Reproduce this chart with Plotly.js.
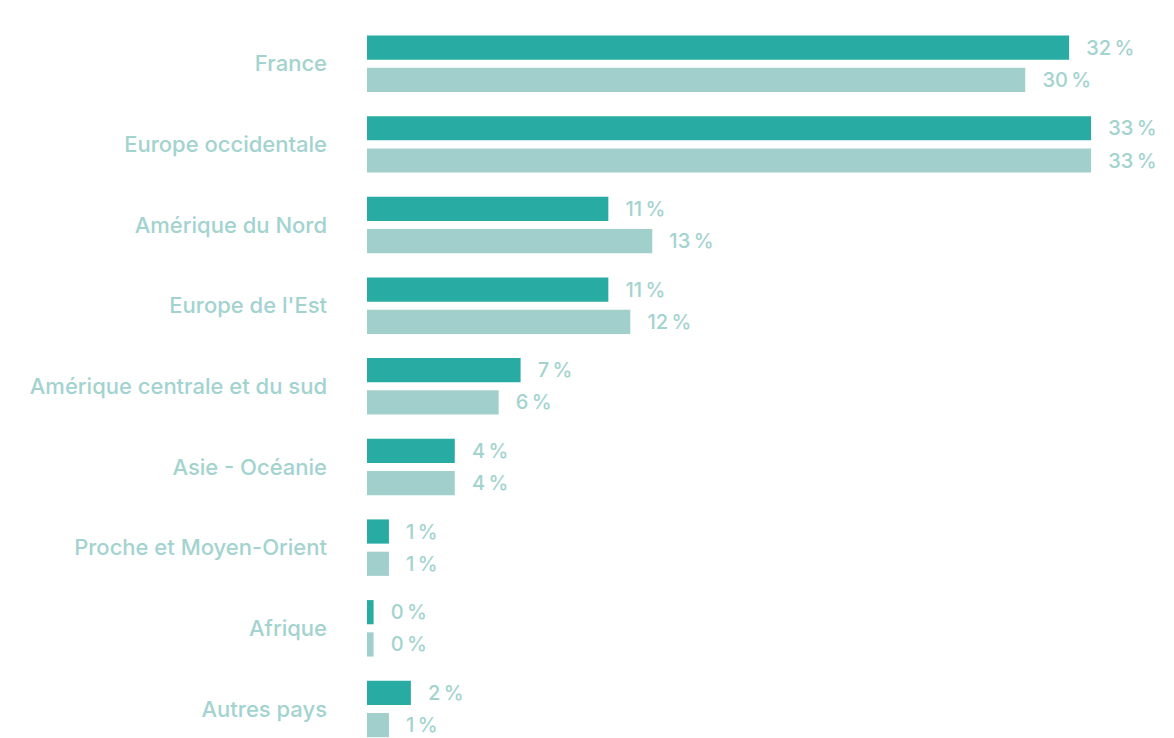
<!DOCTYPE html>
<html>
<head>
<meta charset="utf-8">
<script src="https://cdn.plot.ly/plotly-3.0.1.min.js"></script>
<style>html,body{margin:0;padding:0;background:#fff;}#chart{width:1174px;height:738px;}</style>
</head>
<body>
<div id="chart"></div>
<script>
const categories = ["France","Europe occidentale","Amérique du Nord","Europe de l'Est","Amérique centrale et du sud","Asie - Océanie","Proche et Moyen-Orient","Afrique","Autres pays"];
const seriesA = [32, 33, 11, 11, 7, 4, 1, 0.3, 2];
const seriesB = [30, 33, 13, 12, 6, 4, 1, 0.3, 1];
const labelsA = ["32","33","11","11","7","4","1","0","2"];
const labelsB = ["30","33","13","12","6","4","1","0","1"];

const pad = "\u00a0\u00a0\u2009";
function mk(vals, labs, color, name){
  return {
    type: "bar", orientation: "h", name: name,
    y: categories, x: vals,
    text: labs.map(l => pad + l + "\u2009%"),
    textposition: "outside", cliponaxis: false,
    textfont: {family: "Inter, Roboto, sans-serif", size: 20, weight: 500, color: "#a3d3cf"},
    marker: {color: color, line: {width: 0}},
    hoverinfo: "skip"
  };
}
const data = [mk(seriesA, labelsA, "#27aba3", "A"), mk(seriesB, labelsB, "#a1cfcc", "B")];

const layout = {
  width: 1174, height: 738,
  margin: {l: 367, r: 0, t: 0, b: 0},
  paper_bgcolor: "#fff", plot_bgcolor: "#fff",
  showlegend: false,
  barmode: "group", bargap: 0.2, bargroupgap: 0.25,
  xaxis: {range: [0, 36.78], visible: false, fixedrange: true},
  yaxis: {
    type: "category", range: [8.36, -0.79],
    showgrid: false, zeroline: false, showline: false, ticks: "",
    ticklabelstandoff: 39,
    tickfont: {family: "Inter, Roboto, sans-serif", size: 22, weight: 500, color: "#a3d3cf"}
  },
  font: {family: "Inter, Roboto, sans-serif"}
};
Plotly.newPlot("chart", data, layout, {displayModeBar: false, staticPlot: true});
</script>
</body>
</html>
